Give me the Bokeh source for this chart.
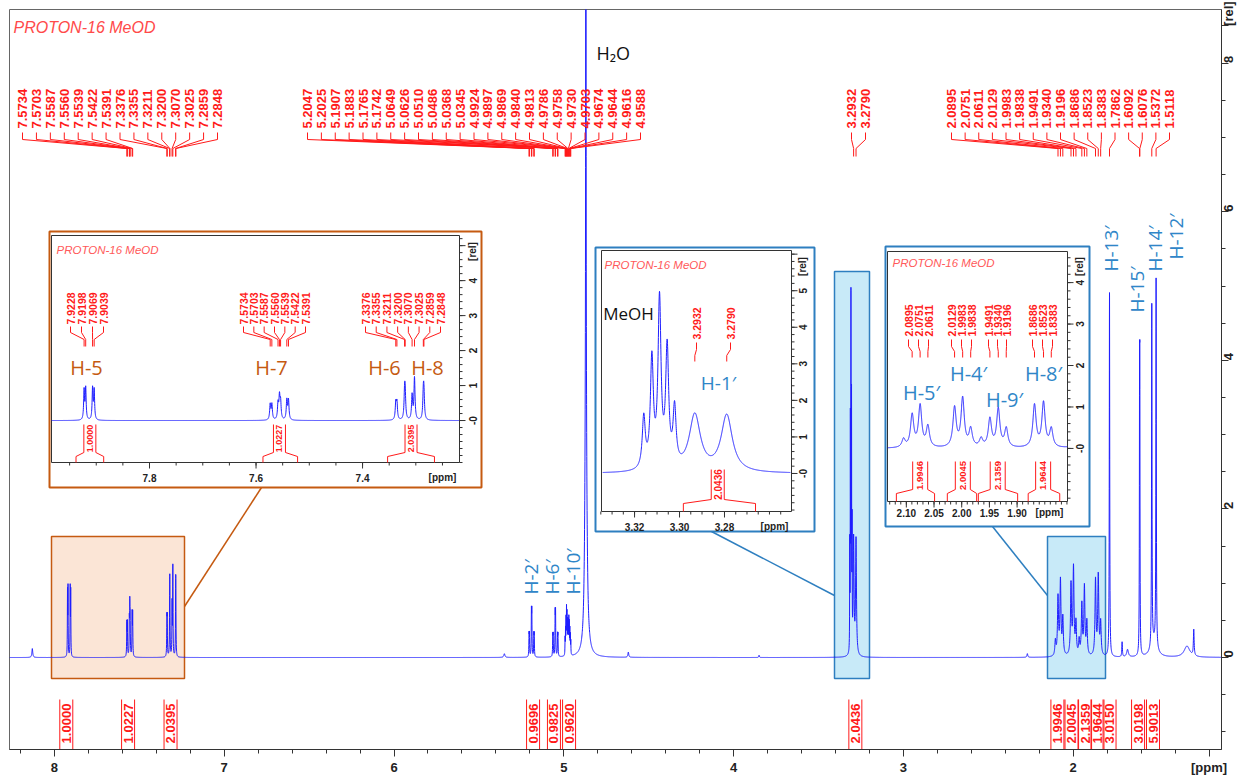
import numpy as np
from bokeh.plotting import figure
from bokeh.models import Range1d, FixedTicker
from bokeh.embed import file_html
from bokeh.resources import INLINE
from bokeh.core.properties import value

# ======================= data =======================
TITLE = "PROTON-16 MeOD"

# spectrum lines: positions (ppm) and heights (rel) per multiplet
h5_ppm = [7.9228, 7.9198, 7.9069, 7.9039]
h5_hgt = [0.85, 0.90, 0.90, 0.85]
h7_ppm = [7.5734, 7.5703, 7.5587, 7.5560, 7.5539, 7.5422, 7.5391]
h7_hgt = [0.44, 0.44, 0.45, 0.62, 0.48, 0.56, 0.56]
h68_ppm = [7.3376, 7.3355, 7.3211, 7.3200, 7.3070, 7.3025, 7.2859, 7.2848]
h68_hgt = [0.48, 0.48, 0.70, 0.65, 0.70, 1.20, 0.68, 0.68]
h2p_ppm = [5.2047, 5.2025, 5.1907, 5.1883, 5.1765, 5.1742]
h2p_hgt = [0.28, 0.28, 0.57, 0.57, 0.28, 0.28]
h6p_ppm = [5.0649, 5.0626, 5.0510, 5.0486, 5.0368, 5.0345]
h6p_hgt = [0.27, 0.27, 0.55, 0.55, 0.27, 0.27]
h10p_ppm = [4.9924, 4.9897, 4.9869, 4.9840, 4.9813, 4.9786, 4.9758, 4.9730,
            4.9703, 4.9674, 4.9644, 4.9616, 4.9588]
h10p_hgt = [0.22, 0.32, 0.45, 0.58, 0.50, 0.40, 0.35, 0.40, 0.45, 0.40, 0.32, 0.25, 0.18]
water_ppm = [4.870, 4.870, 4.866]
water_hgt = [40.0, 4.0, 0.15]
water_hw = [0.0005, 0.0060, 0.012]
meoh_ppm = [3.3159, 3.3123, 3.3089, 3.3055, 3.3022]
meoh_hgt = [1.40, 2.95, 4.55, 3.20, 1.55]
h1p_ppm = [3.2932, 3.2790]
h1p_hgt = [1.55, 1.55]
h5p_ppm = [2.1050, 2.0895, 2.0751, 2.0611]
h5p_hgt = [0.20, 0.78, 1.00, 0.50]
h4p_ppm = [2.0129, 1.9983, 1.9838, 1.9650]
h4p_hgt = [0.95, 1.17, 0.43, 0.20]
h9p_ppm = [1.9491, 1.9340, 1.9196]
h9p_hgt = [0.68, 0.92, 0.45]
h8p_ppm = [1.8686, 1.8523, 1.8383]
h8p_hgt = [1.02, 1.07, 0.44]
methyl_ppm = [1.7862, 1.6092, 1.6076, 1.5372, 1.5118]
methyl_hgt = [4.90, 3.05, 3.05, 4.60, 4.95]
small_ppm = [8.130, 5.350, 4.620, 3.850, 2.270, 1.712, 1.680, 1.525, 1.330, 1.290]
small_hgt = [0.12, 0.05, 0.07, 0.03, 0.05, 0.20, 0.10, 0.20, 0.15, 0.35]
small_hw = [0.003, 0.004, 0.003, 0.002, 0.003, 0.002, 0.006, 0.020, 0.020, 0.0025]

# axis ticks of the full spectrum
x_major = [2, 3, 4, 5, 6, 7, 8]
y_major = [0, 2, 4, 6, 8]
X_CAPTION_AT, Y_CAPTION_AT = 1.2, 8.5

# peak-pick labels along the top of the full spectrum
top_lbl_a = [7.5734, 7.5703, 7.5587, 7.5560, 7.5539, 7.5422, 7.5391, 7.3376, 7.3355,
             7.3211, 7.3200, 7.3070, 7.3025, 7.2859, 7.2848]
top_lbl_b = [5.2047, 5.2025, 5.1907, 5.1883, 5.1765, 5.1742, 5.0649, 5.0626, 5.0510,
             5.0486, 5.0368, 5.0345, 4.9924, 4.9897, 4.9869, 4.9840, 4.9813, 4.9786,
             4.9758, 4.9730, 4.9703, 4.9674, 4.9644, 4.9616, 4.9588]
top_lbl_c = [3.2932, 3.2790]
top_lbl_d = [2.0895, 2.0751, 2.0611, 2.0129, 1.9983, 1.9838, 1.9491, 1.9340, 1.9196,
             1.8686, 1.8523, 1.8383, 1.7862, 1.6092, 1.6076, 1.5372, 1.5118]

# integrals of the full spectrum
int_val = ["1.0000", "1.0227", "2.0395", "0.9696", "0.9825", "0.9620", "2.0436",
           "1.9946", "2.0045", "2.1359", "1.9644", "3.0150", "3.0198", "5.9013"]
int_ppm = [7.930, 7.566, 7.316, 5.181, 5.058, 4.969, 3.283,
           2.093, 2.010, 1.930, 1.857, 1.786, 1.618, 1.530]

# assignments on the full spectrum
assign_txt = ["H-2\u2032", "H-6\u2032", "H-10\u2032", "H-13\u2032", "H-15\u2032", "H-14\u2032", "H-12\u2032"]

# inset 1 (aromatic)
in1_lbl = [[7.9228, 7.9198, 7.9069, 7.9039],
           [7.5734, 7.5703, 7.5587, 7.5560, 7.5539, 7.5422, 7.5391],
           [7.3376, 7.3355, 7.3211, 7.3200, 7.3070, 7.3025, 7.2859, 7.2848]]
in1_int_val = ["1.0000", "1.0227", "2.0395"]
in1_int_ppm = [7.912, 7.556, 7.309]
in1_int_lim = [(7.938, 7.886), (7.587, 7.522), (7.353, 7.265)]
in1_assign = ["H-5", "H-7", "H-6", "H-8"]
# inset 2 (MeOH / H-1')
in2_lbl = [[3.2932], [3.2790]]
in2_int_val = ["2.0436"]
in2_int_ppm = [3.283]
in2_int_lim = [(3.2983, 3.2662)]
in2_assign = ["MeOH", "H-1\u2032"]
# inset 3 (2.1 - 1.8 ppm)
in3_lbl = [[2.0895, 2.0751, 2.0611], [2.0129, 1.9983, 1.9838],
           [1.9491, 1.9340, 1.9196], [1.8686, 1.8523, 1.8383]]
in3_int_val = ["1.9946", "2.0045", "2.1359", "1.9644"]
in3_int_ppm = [2.075, 1.998, 1.935, 1.853]
in3_int_lim = [(2.118, 2.049), (2.026, 1.973), (1.970, 1.899), (1.880, 1.823)]
in3_assign = ["H-5\u2032", "H-4\u2032", "H-9\u2032", "H-8\u2032"]

# ======================= spectrum model =======================
MULTS = [(h5_ppm, h5_hgt, 0.0010), (h7_ppm, h7_hgt, 0.0012), (h68_ppm, h68_hgt, 0.0012),
         (h2p_ppm, h2p_hgt, 0.0012), (h6p_ppm, h6p_hgt, 0.0012), (h10p_ppm, h10p_hgt, 0.0009),
         (meoh_ppm, meoh_hgt, 0.0008), (h1p_ppm, h1p_hgt, 0.0030),
         (h5p_ppm, h5p_hgt, 0.0035), (h4p_ppm, h4p_hgt, 0.0035), (h9p_ppm, h9p_hgt, 0.0035),
         (h8p_ppm, h8p_hgt, 0.0035)]
c_list, h_list, w_list = [], [], []
for pp, hh, ww in MULTS:
    c_list += pp; h_list += hh; w_list += [ww] * len(pp)
c_list += water_ppm; h_list += water_hgt; w_list += water_hw
c_list += methyl_ppm; h_list += methyl_hgt; w_list += [0.0015, 0.0012, 0.0012, 0.0015, 0.0015]
c_list += small_ppm; h_list += small_hgt; w_list += small_hw
C = np.array(c_list); H = np.array(h_list); W = np.array(w_list)


def spectrum(x):
    x = np.asarray(x)[:, None]
    return (H * W ** 2 / ((x - C) ** 2 + W ** 2)).sum(axis=1)


# ======================= styling / layout =======================
RED = "#ff1a1a"
SPEC = "#1f1fff"
ORANGE = "#c55a11"
ORANGE_FILL = "#fbe5d6"
BLUE = "#2e7fc0"
BLUE_FILL = "#c8eaf8"
HBLUE = "#2f86c8"
AXIS = "#333333"
FONT = "Liberation Sans"
HFONT = "Open Sans"


def X(px):  # reference pixel column -> ppm
    return 5.0 + (564.3 - px) / 169.8


def Y(py):  # reference pixel row -> rel
    return (658.0 - py) / 74.3


XS, XE = X(10), X(1222)
YS, YE = Y(750), Y(10)

p = figure(width=1246, height=778, x_range=Range1d(XS, XE), y_range=Range1d(YS, YE),
           y_axis_location="right", output_backend="svg", toolbar_location=None,
           min_border_left=9, min_border_top=9, min_border_right=25, min_border_bottom=29)
p.grid.visible = False
p.outline_line_color = "#666666"
p.background_fill_color = "white"
p.border_fill_color = "white"

xa = p.xaxis[0]
x_minor = [round(1.2 + 0.2 * i, 1) for i in range(36)]
xa.ticker = FixedTicker(ticks=x_major + [X_CAPTION_AT],
                        minor_ticks=[t for t in x_minor if abs(t - X_CAPTION_AT) > 1e-6])
xa.major_label_overrides = {X_CAPTION_AT: "[ppm]"}
ya = p.yaxis[0]
y_minor = [-1 + 0.5 * i for i in range(20)]
ya.ticker = FixedTicker(ticks=y_major + [Y_CAPTION_AT],
                        minor_ticks=[t for t in y_minor if abs(t - Y_CAPTION_AT) > 1e-6])
ya.major_label_overrides = {Y_CAPTION_AT: "[rel]"}
ya.major_label_orientation = np.pi / 2
for ax in (xa, ya):
    ax.major_label_text_font = FONT
    ax.major_label_text_font_size = "13px"
    ax.major_label_text_font_style = "bold"
    ax.major_label_text_color = "#222222"
    ax.major_tick_out = 7
    ax.minor_tick_out = 4
    ax.major_tick_in = 0
    ax.minor_tick_in = 0
    ax.axis_line_color = AXIS
    ax.major_tick_line_color = AXIS
    ax.minor_tick_line_color = AXIS
xa.major_label_standoff = 3
ya.major_label_standoff = 0


def T(x, y, s, size, color, angle=0.0, align="left", baseline="middle", style="normal",
      font=FONT, **rn):
    x = list(np.atleast_1d(x))
    y = list(np.atleast_1d(y))
    s = [s] if isinstance(s, str) else list(s)
    n = max(len(x), len(y), len(s))
    if len(x) == 1: x = x * n
    if len(y) == 1: y = y * n
    if len(s) == 1: s = s * n
    p.text(x=x, y=y, text=s, angle=angle, text_align=align, text_baseline=baseline,
           text_font=value(font), text_font_size=size, text_font_style=style,
           text_color=color, **rn)


def peak_labels(groups, spans, pys, size, fx, fy, rn):
    for vals, (a, b) in zip(groups, spans):
        n = len(vals)
        tx = [fx(a + (b - a) * i / max(n - 1, 1)) for i in range(n)]
        T(tx, [fy(pys[0])] * n, [f"{v:.4f}" for v in vals], size, RED, angle=np.pi / 2,
          align="left", style="bold", **rn)
        xs = [[t, t, v, v] for t, v in zip(tx, vals)]
        ys = [[fy(pys[1]), fy(pys[2]), fy(pys[3]), fy(pys[4])]] * n
        p.multi_line(xs, ys, line_color=RED, line_width=1, **rn)


# ---------------- highlight boxes on the full spectrum ----------------
for (l, r, t, b), fc, lc in [((52, 185, 537, 679), ORANGE_FILL, ORANGE),
                             ((835, 870, 272, 679), BLUE_FILL, BLUE),
                             ((1048, 1106, 537, 679), BLUE_FILL, BLUE)]:
    p.quad(left=[X(l)], right=[X(r)], top=[Y(t)], bottom=[Y(b)], fill_color=fc,
           line_color=lc, line_width=1.5)

# ---------------- full spectrum ----------------
gx = np.union1d(np.arange(XE, XS, 0.0006), C)
p.line(gx, spectrum(gx), line_color=SPEC, line_width=1)

# ---------------- top peak labels ----------------
peak_labels([top_lbl_a, top_lbl_b, top_lbl_c, top_lbl_d],
            [(23, 218), (308, 641), (852, 866), (952, 1170)],
            [129, 133, 140, 149, 157], "13px", X, Y, {})

# ---------------- integrals ----------------
ihw = 6.5 / 169.8
p.multi_line([[c + ihw, c + ihw] for c in int_ppm] + [[c - ihw, c - ihw] for c in int_ppm],
             [[Y(700), Y(770)]] * (2 * len(int_ppm)), line_color=RED, line_width=1)
T(int_ppm, [Y(724)], int_val, "13px", RED, angle=np.pi / 2, align="center", style="bold")

# ---------------- assignments on full spectrum ----------------
assign_px = [(531, 595), (552, 595), (573, 595), (1111, 272), (1137, 313), (1155, 272), (1176, 260)]
T([X(a) for a, _ in assign_px], [Y(b) for _, b in assign_px], assign_txt, "19px", HBLUE,
  angle=np.pi / 2, align="left", font=HFONT)
T([X(597)], [Y(53)], "H\u2082O", "18px", "#111111", align="left", font=HFONT)
T([X(14)], [Y(28)], TITLE, "16px", "#ff4a4a", align="left", style="italic")

# ---------------- connectors ----------------
p.line([X(185), X(262)], [Y(607), Y(488)], line_color=ORANGE, line_width=1.5)
p.line([X(835), X(712)], [Y(596), Y(532)], line_color=BLUE, line_width=1.5)
p.line([X(1048), X(993)], [Y(596), Y(527)], line_color=BLUE, line_width=1.5)


# ---------------- insets ----------------
def inset(cfg):
    name = cfg["name"]
    L, R, Tp, B = cfg["frame"]
    xr, yr = cfg["xr"], cfg["yr"]
    fx0 = (X(L) - XS) / (XE - XS)
    fx1 = (X(R) - XS) / (XE - XS)
    kx = (xr[1] - xr[0]) / (fx1 - fx0)
    sx = xr[0] - fx0 * kx
    fy0 = (Y(B) - YS) / (YE - YS)
    fy1 = (Y(Tp) - YS) / (YE - YS)
    ky = (yr[1] - yr[0]) / (fy1 - fy0)
    sy = yr[0] - fy0 * ky
    p.extra_x_ranges = {**p.extra_x_ranges, name: Range1d(sx, sx + kx)}
    p.extra_y_ranges = {**p.extra_y_ranges, name: Range1d(sy, sy + ky)}
    rn = dict(x_range_name=name, y_range_name=name)

    def ix(px):
        return xr[0] + (px - L) / (R - L) * (xr[1] - xr[0])

    def iy(py):
        return yr[0] + (B - py) / (B - Tp) * (yr[1] - yr[0])

    dx = abs(xr[0] - xr[1]) / (R - L)
    dy = (yr[1] - yr[0]) / (B - Tp)

    oL, oR, oT, oB = cfg["outer"]
    p.quad(left=[X(oL)], right=[X(oR)], top=[Y(oT)], bottom=[Y(oB)], fill_color="white",
           line_color=cfg["color"], line_width=2)
    p.quad(left=[xr[0]], right=[xr[1]], top=[yr[1]], bottom=[yr[0]], fill_color=None,
           line_color=AXIS, line_width=1, **rn)

    # spectrum
    lo, hi = min(xr), max(xr)
    g = np.union1d(np.arange(lo + 0.0005, hi - 0.0005, cfg["step"]),
                   C[(C > lo + 0.0005) & (C < hi - 0.0005)])
    p.line(g, spectrum(g), line_color=SPEC, line_width=1, **rn)

    # x axis ticks
    xm, xn = cfg["xmaj"], cfg["xmin"]
    p.segment(x0=xn, y0=[yr[0]] * len(xn), x1=xn, y1=[yr[0] - 3 * dy] * len(xn),
              line_color=AXIS, line_width=1, **rn)
    p.segment(x0=xm, y0=[yr[0]] * len(xm), x1=xm, y1=[yr[0] - 6 * dy] * len(xm),
              line_color=AXIS, line_width=1, **rn)
    T(xm, [iy(cfg["xlab_py"])], cfg["xlab"], "10px", "#222222", align="center", style="bold", **rn)
    T([ix(cfg["ppm_px"])], [iy(cfg["xlab_py"])], "[ppm]", "10px", "#222222", align="center",
      style="bold", **rn)
    # y axis ticks (right)
    ym, yn = cfg["ymaj"], cfg["ymin"]
    p.segment(x0=[xr[1]] * len(yn), y0=yn, x1=[xr[1] - 3 * dx] * len(yn), y1=yn,
              line_color=AXIS, line_width=1, **rn)
    p.segment(x0=[xr[1]] * len(ym), y0=ym, x1=[xr[1] - 6 * dx] * len(ym), y1=ym,
              line_color=AXIS, line_width=1, **rn)
    yl = cfg["ylab"]
    T([ix(cfg["ylab_px"])], list(range(len(yl))), yl, "10px", "#222222", angle=np.pi / 2,
      align="center", style="bold", **rn)
    T([ix(cfg["ylab_px"])], [iy(cfg["rel_py"])], "[rel]", "10px", "#222222", angle=np.pi / 2,
      align="center", style="bold", **rn)
    tx, ty = cfg["title_px"]
    T([ix(tx)], [iy(ty)], TITLE, "11.5px", "#ff5a5a", align="left", style="italic", **rn)

    # peak labels
    peak_labels(cfg["groups"], cfg["spans"], cfg["lbl_py"], cfg["lbl_size"], ix, iy, rn)

    # integrals
    t0, t1, t2, t3 = cfg["int_py"]
    hw = cfg["int_hw"] * dx
    for c, (e0, e1) in zip(cfg["int_ppm"], cfg["int_lim"]):
        p.multi_line([[c + hw, c + hw, e0, e0], [c - hw, c - hw, e1, e1]],
                     [[iy(t0), iy(t1), iy(t2), iy(t3)]] * 2, line_color=RED, line_width=1, **rn)
    T(cfg["int_ppm"], [iy((t0 + t1) / 2)], cfg["int_val"], cfg["int_size"], RED,
      angle=np.pi / 2, align="center", style="bold", **rn)

    # assignments
    for txt, (ax_, ay_), col, sz in cfg["assign"]:
        T([ix(ax_)], [iy(ay_)], txt, sz, col, align="center", font=HFONT, **rn)


inset(dict(name="i1", frame=(52, 460, 236, 463), outer=(50, 482, 232, 488),
           xr=(7.984, 7.218), yr=(-1.2, 5.29), color=ORANGE, step=0.0002,
           xmaj=[7.8, 7.6, 7.4], xlab=["7.8", "7.6", "7.4"],
           xmin=[round(7.25 + 0.05 * i, 2) for i in range(15)],
           ymaj=[0, 1, 2, 3, 4, 5], ymin=[round(-1.2 + 0.2 * i, 1) for i in range(33)],
           ylab=["-0", "1", "2", "3", "4"], xlab_py=478, ppm_px=443, ylab_px=473, rel_py=252,
           title_px=(57, 250), groups=in1_lbl, spans=[(71, 104), (244, 306), (366, 441)],
           lbl_py=[325, 327, 333, 340, 347], lbl_size="10.5px",
           int_ppm=in1_int_ppm, int_lim=in1_int_lim, int_val=in1_int_val,
           int_py=(425, 453, 457, 463), int_hw=6, int_size="9px",
           assign=[(in1_assign[0], (87, 368), ORANGE, "20px"),
                   (in1_assign[1], (272, 368), ORANGE, "20px"),
                   (in1_assign[2], (385, 368), ORANGE, "20px"),
                   (in1_assign[3], (428, 368), ORANGE, "20px")]))

inset(dict(name="i2", frame=(602, 792, 251, 512), outer=(596, 815, 248, 532),
           xr=(3.3347, 3.2502), yr=(-1.04, 6.1), color=BLUE, step=0.00005,
           xmaj=[3.32, 3.30, 3.28], xlab=["3.32", "3.30", "3.28"],
           xmin=[round(3.255 + 0.005 * i, 3) for i in range(17)],
           ymaj=[0, 1, 2, 3, 4, 5, 6], ymin=[round(-1.0 + 0.2 * i, 1) for i in range(36)],
           ylab=["-0", "1", "2", "3", "4", "5"], xlab_py=527, ppm_px=775, ylab_px=803, rel_py=267,
           title_px=(605, 265), groups=in2_lbl, spans=[(697, 697), (731, 731)],
           lbl_py=[340, 343, 350, 356, 362], lbl_size="10.5px",
           int_ppm=in2_int_ppm, int_lim=in2_int_lim, int_val=in2_int_val,
           int_py=(470, 500, 504, 512), int_hw=6.5, int_size="10px",
           assign=[(in2_assign[0], (629, 314), "#111111", "17px"),
                   (in2_assign[1], (719, 383), HBLUE, "19px")]))

inset(dict(name="i3", frame=(888, 1068, 252, 502), outer=(886, 1090, 247, 527),
           xr=(2.134, 1.809), yr=(-1.28, 4.75), color=BLUE, step=0.0001,
           xmaj=[2.10, 2.05, 2.00, 1.95, 1.90], xlab=["2.10", "2.05", "2.00", "1.95", "1.90"],
           xmin=[round(1.81 + 0.01 * i, 2) for i in range(33)],
           ymaj=[0, 1, 2, 3, 4], ymin=[round(-1.2 + 0.2 * i, 1) for i in range(30)],
           ylab=["-0", "1", "2", "3", "4"], xlab_py=513, ppm_px=1050, ylab_px=1080, rel_py=267,
           title_px=(893, 263), groups=in3_lbl,
           spans=[(909, 929), (952, 972), (989, 1007), (1033, 1053)],
           lbl_py=[337, 340, 347, 352, 358], lbl_size="10.5px",
           int_ppm=in3_int_ppm, int_lim=in3_int_lim, int_val=in3_int_val,
           int_py=(462, 490, 494, 502), int_hw=7.5, int_size="9.5px",
           assign=[(in3_assign[0], (922, 393), HBLUE, "20px"),
                   (in3_assign[1], (969, 374), HBLUE, "20px"),
                   (in3_assign[2], (1005, 400), HBLUE, "20px"),
                   (in3_assign[3], (1044, 374), HBLUE, "20px")]))

open("out.html", "w").write(file_html(p, INLINE))
